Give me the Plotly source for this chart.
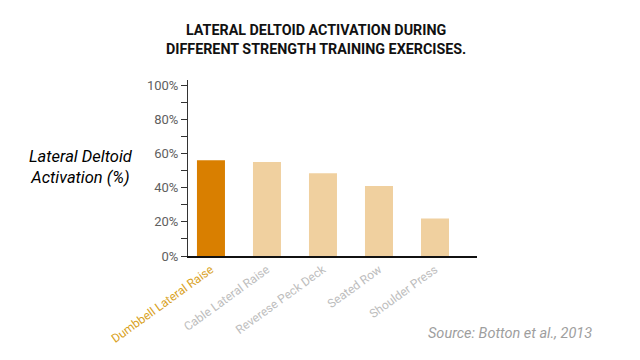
import plotly.graph_objects as go

categories = ["Dumbbell Lateral Raise", "Cable Lateral Raise", "Reverese Peck Deck", "Seated Row", "Shoulder Press"]
values = [56, 55, 48.5, 41, 22]
bar_colors = ["#D97F00", "#F0D09F", "#F0D09F", "#F0D09F", "#F0D09F"]
label_colors = ["#D9A21E", "#BDBDBD", "#BDBDBD", "#BDBDBD", "#BDBDBD"]
y_tickvals = [0, 20, 40, 60, 80, 100]
y_ticktext = ["0%", "20%", "40%", "60%", "80%", "100%"]

OFF = 8  # page body margin
L, R, T, B = 188 - OFF, 640 - (477 - OFF), 80 - OFF, 360 - (256 - OFF)
PW, PH = 640 - L - R, 360 - T - B


def px(sx):
    return (sx - OFF - L) / PW


def py(sy):
    return (360 - B - (sy - OFF)) / PH


xs = list(range(len(categories)))
fig = go.Figure(go.Bar(x=xs, y=values, marker_color=bar_colors, width=0.5, marker_line_width=0))

fig.update_layout(
    width=640, height=360,
    margin=dict(l=L, r=R, t=T, b=B),
    plot_bgcolor="white", paper_bgcolor="white",
    font=dict(family="Roboto", color="#666666"),
    showlegend=False,
)
fig.update_xaxes(
    range=[-0.41, 4.75], automargin=False,
    tickvals=xs,
    ticktext=[f'<span style="color:{c}">{t}</span>' for t, c in zip(categories, label_colors)],
    tickangle=-36, tickfont=dict(size=12, family="Roboto"),
    showline=True, linecolor="#111111", linewidth=2, ticks="", showgrid=False, zeroline=False,
)
fig.update_yaxes(
    range=[0, 103], automargin=False,
    tickvals=y_tickvals, ticktext=y_ticktext,
    tickfont=dict(size=13, family="Roboto", color="#606060"),
    showline=True, linecolor="#333333", linewidth=1,
    ticks="outside", ticklen=6, tickcolor="#333333",
    minor=dict(dtick=10, ticks="outside", ticklen=6, tickcolor="#333333", showgrid=False),
    showgrid=False, zeroline=False,
)

fig.add_annotation(
    x=px(316), y=py(20),
    xref="paper", yref="paper", xanchor="center", yanchor="top",
    text="<b>LATERAL DELTOID ACTIVATION DURING<br>DIFFERENT STRENGTH TRAINING EXERCISES.</b>",
    showarrow=False, align="center",
    font=dict(family="Roboto", size=14.3, color="#111111"),
)
fig.add_annotation(
    x=px(81), y=py(167),
    xref="paper", yref="paper", xanchor="center", yanchor="middle",
    text="<i>Lateral Deltoid<br>Activation (%)</i>",
    showarrow=False, align="center",
    font=dict(family="Roboto", size=16.5, color="#000000"),
)
fig.add_annotation(
    x=px(594), y=py(333),
    xref="paper", yref="paper", xanchor="right", yanchor="middle",
    text="<i>Source: Botton et al., 2013</i>",
    showarrow=False,
    font=dict(family="Roboto", size=14.5, color="#9E9E9E"),
)

fig.write_html("out.html")
